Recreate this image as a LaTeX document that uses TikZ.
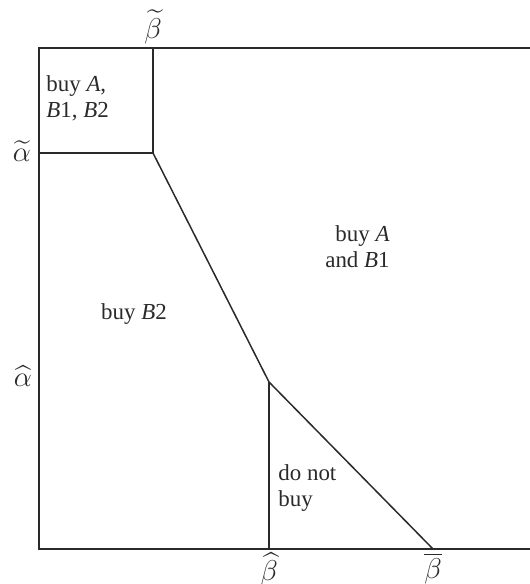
\documentclass[tikz,border=0pt]{standalone}
\usepackage{amsmath}
\usepackage{fontspec}
\setmainfont{Liberation Serif}
\usetikzlibrary{positioning}
\definecolor{ink}{HTML}{2A2A2A}
\newcommand{\var}[1]{\textit{#1}}
\tikzset{
  bound/.style={draw=ink,line width=0.75pt},
  reg/.style={font=\fontsize{11.5}{13}\selectfont,inner sep=0pt,text=ink},
  axl/.style={font=\fontsize{14}{16}\selectfont,inner sep=0pt,text=ink},
}
\begin{document}
\begin{tikzpicture}[x=0.5bp,y=-0.5bp]
  \useasboundingbox (0,0) rectangle (530,584);
  % ---------- corner points ----------
  \coordinate (tl) at (39,48);
  \coordinate (bl) at (39,549);
  \coordinate (tr) at (530,48);
  \coordinate (br) at (530,549);
  \coordinate (tbt) at (153,48);
  \coordinate (lat) at (39,153);
  \coordinate (kinka) at (153,153);
  \coordinate (kinkb) at (269,382);
  \coordinate (bbh) at (269,549);
  \coordinate (bbb) at (433,549);
  % ---------- frame and boundaries ----------
  \draw[bound] (tr) -- (tl) -- (bl) -- (br);
  \draw[bound] (tbt) -- (kinka) -- (lat);
  \draw[bound] (kinka) -- (kinkb) -- (bbb);
  \draw[bound] (kinkb) -- (bbh);
  % ---------- thresholds ----------
  \node[axl,anchor=south] (btil) at (153,44) {$\widetilde{\beta}$};
  \node[axl] (atil) at (22,151) {$\widetilde{\alpha}$};
  \node[axl] (ahat) at (23,376) {$\widehat{\alpha}$};
  \node[axl,anchor=north] (bhat) at (269,552) {$\widehat{\beta}$};
  \node[axl,anchor=north] (bbar) at (433,552) {$\overline{\beta}$};
  % ---------- regions ----------
  \node[reg,align=left,anchor=west] (rall) at (46,98) {buy \var{A},\\\var{B}1, \var{B}2};
  \node[reg,align=right,anchor=east] (rab) at (390,247) {buy \var{A}\\and \var{B}1};
  \node[reg] (rbtwo) at (134,314) {buy \var{B}2};
  \node[reg,align=left,anchor=west] (rnone) at (278,488) {do not\\buy};
\end{tikzpicture}
\end{document}
